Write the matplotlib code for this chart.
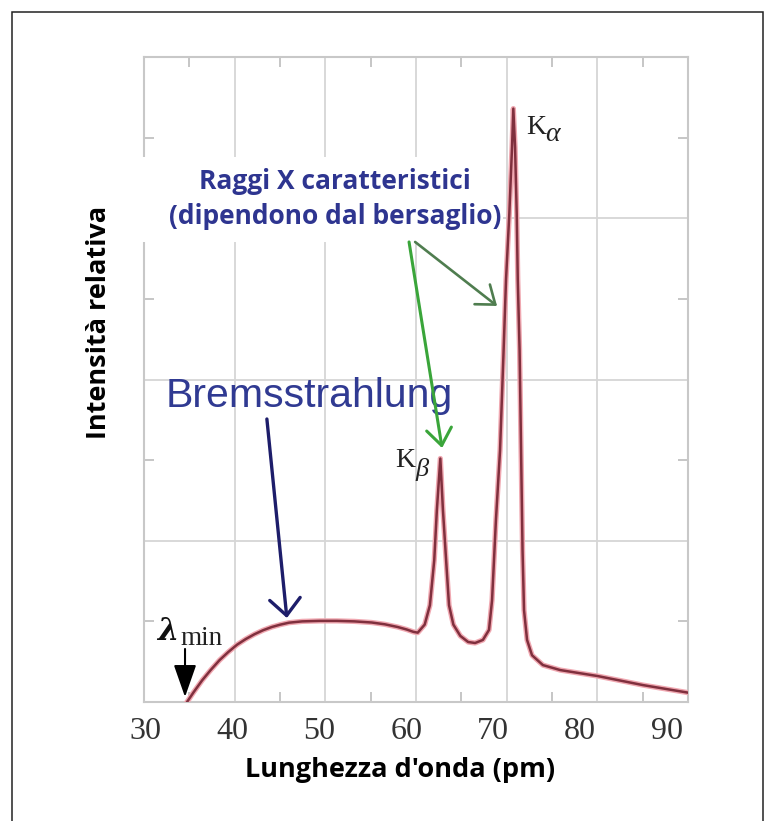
import matplotlib
matplotlib.use("Agg")
import matplotlib.pyplot as plt
from matplotlib.patches import Rectangle

plt.rcParams['mathtext.fontset'] = 'stix'

# ---------------- data ----------------
wavelength = [34.75, 35.5, 36.5, 37.5, 38.5, 39.5, 40.5, 41.5, 42.5, 43.5, 44.5, 45.5,
              46.5, 48.0, 50.0, 52.0, 54.0, 56.0, 57.5, 59.0, 60.0, 60.8, 61.3,
              62.1, 62.7, 63.2, 63.5, 63.9, 64.2, 64.6, 64.9, 65.4, 66.2, 67.1, 67.9,
              68.8, 69.5, 69.85,
              70.3, 70.77, 71.18, 71.46, 71.84, 72.15, 72.30, 72.50, 72.69, 72.81,
              73.02, 73.19, 73.36, 73.53, 73.88, 74.45, 75.7, 77.7, 82.0, 87.2, 92.4]
intensity = [0.0, 0.06, 0.135, 0.20, 0.26, 0.31, 0.355, 0.39, 0.42, 0.445, 0.465, 0.48,
             0.492, 0.50, 0.503, 0.503, 0.50, 0.493, 0.482, 0.465, 0.45, 0.435, 0.43,
             0.48, 0.60, 0.88, 1.19, 1.51, 1.19, 0.85, 0.60, 0.48, 0.41, 0.372, 0.366,
             0.385, 0.447, 0.63,
             1.13, 1.56, 2.18, 2.62, 3.03, 3.44, 3.68, 3.44, 3.03, 2.62,
             2.18, 1.56, 0.94, 0.57, 0.385, 0.29, 0.229, 0.198, 0.161, 0.105, 0.058]
xtick_values = [30, 40, 50, 60, 70, 80, 90]
xtick_labels = ["30", "40", "50", "60", "70", "80", "90"]

# ---------------- figure ----------------
W, H = 775, 821
fig = plt.figure(figsize=(W / 100, H / 100), dpi=100)
fig.patch.set_facecolor("white")
L, R, T, B = 144, 688, 57, 702
pos = [L / W, 1 - B / H, (R - L) / W, (B - T) / H]

# grid / frame axes (evenly divided grid of the original drawing)
gax = fig.add_axes(pos, zorder=0)
gax.set_xlim(0, 6)
gax.set_ylim(0, 4)
gax.set_xticks([1, 2, 3, 4, 5])
gax.set_yticks([1, 2, 3])
gax.set_xticks([0.5, 1.5, 2.5, 3.5, 4.5, 5.5], minor=True)
gax.set_yticks([0.5, 1.5, 2.5, 3.5], minor=True)
gax.grid(True, which="major", color="#d6d6d6", lw=1.3)
gax.tick_params(which="major", length=0, labelbottom=False, labelleft=False)
gax.tick_params(which="minor", direction="in", length=7, width=1.3, color="#c2c2c2",
                top=True, right=True, bottom=True, left=True,
                labelbottom=False, labelleft=False)
for s in gax.spines.values():
    s.set_color("#c8c8c8")
    s.set_linewidth(1.5)

# data axes
ax = fig.add_axes(pos, zorder=1)
ax.patch.set_visible(False)
ax.set_xlim(29.8, 92.4)
ax.set_ylim(0, 4)
ax.set_xticks(xtick_values)
ax.set_xticklabels(xtick_labels, fontsize=23, family="Liberation Serif", color="#333333")
ax.set_yticks([])
ax.tick_params(axis="x", length=0, pad=11)
for s in ax.spines.values():
    s.set_visible(False)

# spectrum curve (pink halo + dark red core)
ax.plot(wavelength, intensity, color="#f0a8b1", lw=3.8, solid_joinstyle="round", zorder=2)
ax.plot(wavelength, intensity, color="#80303e", lw=1.8, solid_joinstyle="round", zorder=3)

# white label box
ax.add_patch(Rectangle((-0.003, 0.713), 0.663, 0.132, transform=ax.transAxes,
                       facecolor="white", edgecolor="none", clip_on=False, zorder=4))
blue = "#2e3590"
ax.text(51.78, 3.231, "Raggi X caratteristici", ha="center", va="center",
        fontsize=19, fontweight="bold", family="Open Sans", color=blue, zorder=5)
ax.text(51.78, 3.008, "(dipendono dal bersaglio)", ha="center", va="center",
        fontsize=19, fontweight="bold", family="Open Sans", color=blue, zorder=5)

# Bremsstrahlung
ax.text(32.33, 1.83, "Bremsstrahlung", ha="left", va="baseline", fontsize=29.5,
        family="Liberation Sans", color="#303a92", zorder=5)
ax.annotate("", xy=(46.24, 0.521), xytext=(43.94, 1.755),
            arrowprops=dict(arrowstyle="->,head_length=0.6,head_width=0.55",
                            mutation_scale=20, color="#1d1d6a", lw=2.4,
                            shrinkA=0, shrinkB=0), zorder=6)

# green arrows
ax.annotate("", xy=(64.10, 1.575), xytext=(60.30, 2.853),
            arrowprops=dict(arrowstyle="->,head_length=0.6,head_width=0.45",
                            mutation_scale=20, color="#3aa53a", lw=2.2,
                            shrinkA=0, shrinkB=0), zorder=6)
ax.annotate("", xy=(70.43, 2.456), xytext=(61.0, 2.853),
            arrowprops=dict(arrowstyle="->,head_length=0.6,head_width=0.45",
                            mutation_scale=20, color="#4f7d4f", lw=1.9,
                            shrinkA=0, shrinkB=0), zorder=6)

# peak labels
serif = "Liberation Serif"
ax.text(73.77, 3.52, "K", ha="left", va="baseline", fontsize=20,
        family=serif, color="#222222", zorder=5)
ax.text(75.95, 3.48, "α", ha="left", va="baseline", fontsize=20, style="italic",
        family=serif, color="#222222", zorder=5)
ax.text(61.0, 1.457, "K", ha="right", va="baseline", fontsize=20,
        family=serif, color="#222222", zorder=5)
ax.text(61.05, 1.40, "β", ha="left", va="baseline", fontsize=19, style="italic",
        family=serif, color="#222222", zorder=5)

# lambda min
ax.text(31.30, 0.385, "λ", ha="left", va="baseline", fontsize=22, fontweight="bold",
        style="italic", family="DejaVu Serif", color="#111111", zorder=5)
ax.text(33.94, 0.353, "min", ha="left", va="baseline", fontsize=19.5,
        family=serif, color="#222222", zorder=5)
ax.annotate("", xy=(34.52, 0.031), xytext=(34.52, 0.329),
            arrowprops=dict(arrowstyle="-|>,head_length=1.0,head_width=0.35",
                            mutation_scale=20, color="black", lw=1.5,
                            shrinkA=0, shrinkB=0), zorder=6)

# axis titles
fig.text(400 / W, 1 - 770 / H, "Lunghezza d'onda (pm)", ha="center", va="center",
         fontsize=19.5, fontweight="bold", family="Open Sans", color="black")
fig.text(99 / W, 1 - 322 / H, "Intensità relativa", ha="center", va="center",
         rotation=90, fontsize=19.5, fontweight="bold", family="Open Sans", color="black")

# outer border
fig.add_artist(Rectangle((12 / W, -0.05), (763 - 12) / W, 1.05 - 12 / H,
                         transform=fig.transFigure, facecolor="none",
                         edgecolor="#222222", lw=1.1))

fig.savefig("out.png", dpi=100, facecolor="white")
